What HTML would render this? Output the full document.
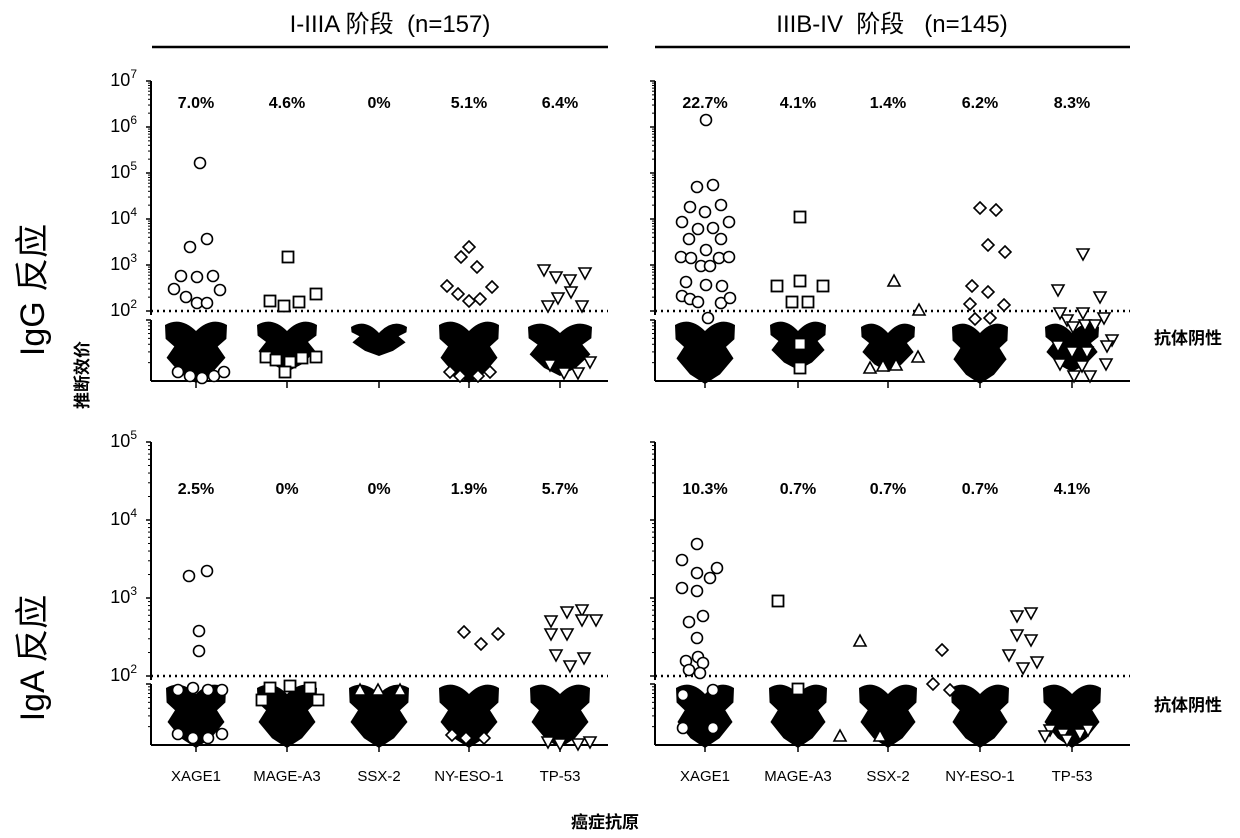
<!DOCTYPE html>
<html><head><meta charset="utf-8"><style>
body{margin:0;background:#fff}
svg{display:block}
text{font-family:"Liberation Sans","Noto Sans CJK SC",sans-serif;fill:#000}
</style></head><body>
<svg id="s" width="1240" height="838" viewBox="0 0 1240 838" xmlns="http://www.w3.org/2000/svg">
<g font-size="24" text-anchor="middle">
<text x="390" y="32">I-IIIA 阶段 &#160;(n=157)</text>
<text x="892" y="32">IIIB-IV &#160;阶段 &#160;&#160;(n=145)</text>
</g>
<line x1="152" y1="47" x2="608" y2="47" stroke="#000" stroke-width="2.5"/>
<line x1="655" y1="47" x2="1130" y2="47" stroke="#000" stroke-width="2.5"/>
<text transform="translate(44,290) rotate(-90)" font-size="34" text-anchor="middle">IgG 反应</text>
<text transform="translate(44,658) rotate(-90)" font-size="34" text-anchor="middle">IgA 反应</text>
<text transform="translate(88,375) rotate(-90)" font-size="17" font-weight="bold" text-anchor="middle">推断效价</text>
<g font-size="17" font-weight="bold" text-anchor="middle">
<text x="1188" y="344">抗体阴性</text>
<text x="1188" y="711">抗体阴性</text>
<text x="605" y="828">癌症抗原</text>
</g>
<g id="g"></g>
</svg>
<script>
var g=document.getElementById('g'),h='';
function L(x1,y1,x2,y2,w,d){h+='<line x1="'+x1+'" y1="'+y1+'" x2="'+x2+'" y2="'+y2+'" stroke="#000" stroke-width="'+(w||1.5)+'"'+(d?' stroke-dasharray="'+d+'"':'')+'/>';}
function T(x,y,s,o){h+='<text x="'+x+'" y="'+y+'" '+(o||'')+'>'+s+'</text>';}
function axis(ax,x2,ytop,dec,top,ythr,ybreak,ybot,labels,lo){
 L(ax,ytop,ax,ythr+4,2);
 for(var i=0;i<=top-lo;i++){var y=ythr-i*dec;L(ax-5,y,ax,y,1.5);
  if(labels){h+='<text x="'+(ax-14)+'" y="'+(y+5)+'" font-size="18" text-anchor="end">10<tspan font-size="12" dy="-8">'+(lo+i)+'</tspan></text>';}
  if(i<top-lo)for(var k=2;k<10;k++){var yy=y-Math.log10(k)*dec;L(ax-3,yy,ax,yy,1);}}
 L(ax,ybreak,ax,ybot,2);
 for(var k=2;k<10;k++){var yy=ybreak+(ybot-ybreak)*(1-Math.log10(k));L(ax-3,yy,ax,yy,1);}
 L(ax-5,ybreak,ax,ybreak,1.5);
 L(ax,ybot,x2,ybot,2);
 L(ax,ythr,x2,ythr,2.5,'2 4');
}
axis(151,608,81,46,7,311,320,381,true,2);
axis(655,1130,81,46,7,311,320,381,false,2);
axis(151,608,442,78,5,676,684,745,true,2);
axis(655,1130,442,78,5,676,684,745,false,2);
var cL=[196,287,379,469,560],cR=[705,798,888,980,1072];
var names=['XAGE1','MAGE-A3','SSX-2','NY-ESO-1','TP-53'];
[cL,cR].forEach(function(c){c.forEach(function(x,i){L(x,381,x,388,1.5);L(x,745,x,752,1.5);T(x,781,names[i],'font-size="15" text-anchor="middle"');});});
var p=[['7.0%','4.6%','0%','5.1%','6.4%'],['22.7%','4.1%','1.4%','6.2%','8.3%'],['2.5%','0%','0%','1.9%','5.7%'],['10.3%','0.7%','0.7%','0.7%','4.1%']];
p.forEach(function(r,j){var c=j%2?cR:cL,y=j<2?108:494;r.forEach(function(s,i){T(c[i],y,s,'font-size="16" font-weight="bold" text-anchor="middle"');});});
function blob(cx,t,b,w){var H=b-t;
 h+='<path d="M'+(cx-w)+','+(t+5)+' Q'+(cx-w/2)+','+(t-4)+' '+cx+','+(t+11)+' Q'+(cx+w/2)+','+(t-4)+' '+(cx+w)+','+(t+5)+' L'+(cx+w*0.98)+','+(t+H*0.3)+' L'+(cx+w*0.7)+','+(t+H*0.42)+' L'+(cx+w*0.95)+','+(t+H*0.6)+' L'+(cx+w*0.5)+','+(t+H*0.85)+' L'+cx+','+b+' L'+(cx-w*0.5)+','+(t+H*0.85)+' L'+(cx-w*0.95)+','+(t+H*0.6)+' L'+(cx-w*0.7)+','+(t+H*0.42)+' L'+(cx-w*0.98)+','+(t+H*0.3)+' Z" fill="#000"/>';}
var tb=[[320,383,31],[320,372,30],[322,356,28],[320,383,30],[322,376,32]];
cL.forEach(function(x,i){blob(x,tb[i][0],tb[i][1],tb[i][2]);});
var tr=[[320,384,30],[320,370,28],[322,372,27],[322,384,28],[322,372,27]];
cR.forEach(function(x,i){blob(x,tr[i][0],tr[i][1],tr[i][2]);});
cL.forEach(function(x){blob(x,683,748,30);});
cR.forEach(function(x){blob(x,683,748,29);});
function M(type,pts){pts.forEach(function(q){var x=q[0],y=q[1];
 if(type=='o')h+='<circle cx="'+x+'" cy="'+y+'" r="5.5" fill="#fff" stroke="#000" stroke-width="1.6"/>';
 else if(type=='s')h+='<rect x="'+(x-5.5)+'" y="'+(y-5.5)+'" width="11" height="11" fill="#fff" stroke="#000" stroke-width="1.8"/>';
 else if(type=='d')h+='<path d="M'+x+','+(y-6)+' L'+(x+6)+','+y+' L'+x+','+(y+6)+' L'+(x-6)+','+y+'Z" fill="#fff" stroke="#000" stroke-width="1.6"/>';
 else if(type=='t')h+='<path d="M'+x+','+(y-6)+' L'+(x+6)+','+(y+5)+' L'+(x-6)+','+(y+5)+'Z" fill="#fff" stroke="#000" stroke-width="1.6"/>';
 else h+='<path d="M'+(x-6)+','+(y-5)+' L'+(x+6)+','+(y-5)+' L'+x+','+(y+6)+'Z" fill="#fff" stroke="#000" stroke-width="1.6"/>';});}
M('o',[[200,163],[190,247],[207,239],[181,276],[197,277],[213,276],[174,289],[220,290],[186,297],[197,303],[207,303],[178,372],[190,376],[202,378],[214,376],[224,372]]);
M('s',[[288,257],[270,301],[284,306],[299,302],[316,294],[266,357],[276,360],[290,362],[302,358],[316,357],[285,372]]);
M('d',[[469,247],[461,257],[477,267],[447,286],[492,287],[458,294],[469,301],[480,299],[450,372],[460,376],[478,376],[490,372]]);
M('v',[[544,270],[556,277],[570,280],[585,273],[571,292],[558,298],[548,306],[582,306],[550,365],[564,373],[578,373],[590,362]]);
M('o',[[706,120],[697,187],[713,185],[690,207],[721,205],[705,212],[682,222],[729,222],[698,229],[713,228],[689,239],[721,239],[706,250],[681,257],[691,258],[701,266],[710,266],[719,258],[729,257],[686,282],[706,285],[722,286],[682,296],[690,299],[698,302],[721,303],[730,298],[708,318]]);
M('s',[[800,217],[777,286],[800,281],[823,286],[792,302],[808,302],[800,344],[800,368]]);
M('t',[[894,281],[919,310],[870,368],[883,366],[896,365],[918,357]]);
M('d',[[980,208],[996,210],[988,245],[1005,252],[972,286],[988,292],[970,304],[1004,305],[975,319],[990,318]]);
M('v',[[1083,254],[1100,297],[1058,290],[1083,313],[1067,320],[1085,325],[1095,325],[1104,318],[1060,313],[1073,327],[1112,340],[1058,346],[1072,352],[1087,352],[1107,346],[1060,364],[1082,366],[1106,364],[1074,376],[1090,376]]);
M('o',[[189,576],[207,571],[199,631],[199,651],[178,690],[193,688],[208,690],[222,690],[178,734],[193,738],[208,738],[222,734]]);
M('s',[[270,688],[290,686],[310,688],[262,700],[318,700]]);
M('t',[[360,690],[378,690],[400,690]]);
M('d',[[464,632],[481,644],[498,634],[452,735],[466,738],[484,738]]);
M('v',[[551,621],[567,612],[582,610],[596,620],[551,634],[567,634],[582,620],[556,655],[570,666],[584,658],[548,742],[560,744],[578,744],[590,742]]);
M('o',[[697,544],[682,560],[697,573],[717,568],[710,578],[682,588],[697,591],[703,616],[689,622],[697,638],[698,657],[686,661],[703,663],[689,670],[700,673],[683,695],[713,690],[683,728],[713,728]]);
M('s',[[778,601],[798,689]]);
M('t',[[860,641],[840,736],[880,736]]);
M('d',[[942,650],[933,684],[950,690]]);
M('v',[[1017,616],[1031,613],[1017,635],[1031,640],[1009,655],[1037,662],[1023,668],[1050,730],[1063,734],[1080,734],[1045,736],[1067,740],[1088,730]]);
g.innerHTML=h;
</script>
</body></html>
